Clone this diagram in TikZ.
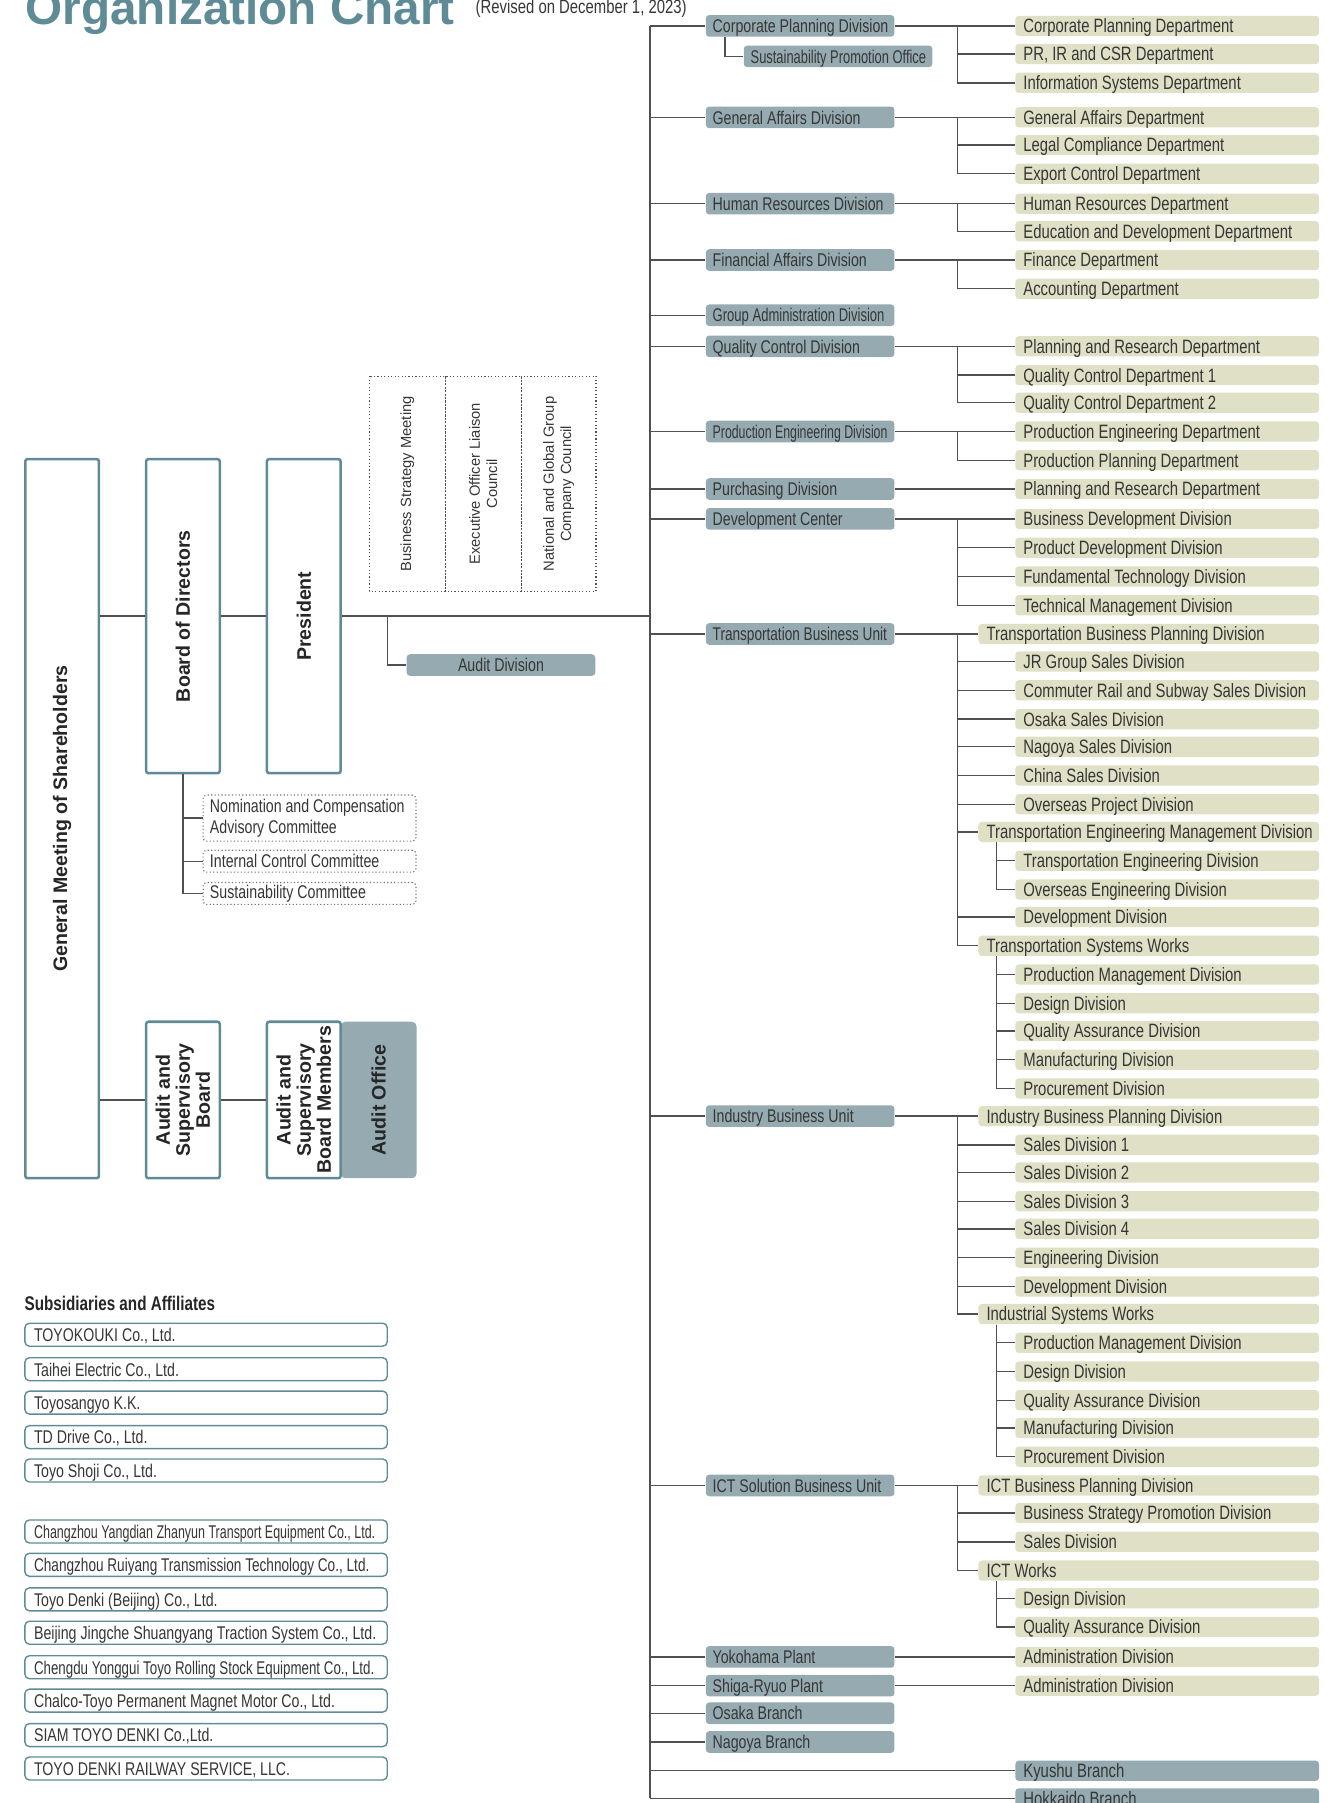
\documentclass[tikz,border=0pt]{standalone}
\usepackage{fontspec}
\setmainfont{Liberation Sans}
\newfontfamily\etroit{Liberation Sans}[FakeStretch=0.77]
\usepackage{xcolor}
\usepackage{tikz}
\definecolor{sarcelle}{HTML}{5E8B96}
\definecolor{ardoise}{HTML}{95ABB1}
\definecolor{kaki}{HTML}{DFE0C5}
\definecolor{trait}{HTML}{505050}
\definecolor{texte}{HTML}{363636}
\newcommand{\serre}[2]{\scalebox{#1}[1]{#2}}

\begin{document}
\begin{tikzpicture}[x=0.5pt,y=-0.5pt]
\tikzstyle{lien}=[draw=trait,line width=0.6pt]
\tikzset{service/.style={fill=#1,rounded corners=1.5pt,anchor=west,inner xsep=3.5pt,inner ysep=0pt,
  minimum height=8.8pt,text width=125pt,align=left,text=texte,
  font=\etroit\fontsize{8.4}{9}\selectfont,text height=6.8pt,text depth=0.8pt,
  execute at begin node={\spaceskip=0pt\xspaceskip=0pt\leavevmode\hbox\bgroup},
  execute at end node=\egroup},
service/.default={kaki},
pole/.style={service,text width=141pt},
division/.style={service=ardoise,inner xsep=3pt,minimum height=9.4pt,text width=76pt,
  font=\etroit\fontsize{8}{9}\selectfont,text height=6.5pt,text depth=0.7pt},
organe/.style={draw=sarcelle,line width=1.1pt,fill=white,rotate=90,rounded corners=1pt,
  inner sep=0pt,align=center,text=black!85,font=\bfseries\fontsize{8.5}{8.7}\selectfont},
conseil/.style={draw=trait,densely dotted,line width=0.5pt,rotate=90,minimum width=93.5pt,
  minimum height=33pt,inner sep=0pt,align=center,text=texte,font=\fontsize{6.4}{7.5}\selectfont},
comite/.style={draw=trait!80,densely dotted,line width=0.5pt,rounded corners=1.5pt,anchor=west,
  inner xsep=3pt,inner ysep=0pt,minimum height=9.5pt,text width=86.5pt,align=left,text=texte,
  font=\etroit\fontsize{8}{9}\selectfont,execute at begin node={\spaceskip=0pt\xspaceskip=0pt}},
filiale/.style={service=white,draw=sarcelle,line width=0.6pt,rounded corners=2pt,inner xsep=4pt,
  minimum height=10pt,text width=149.5pt,font=\etroit\fontsize{8}{9}\selectfont,
  text height=6.8pt,text depth=0.9pt}}
\useasboundingbox (0,0) rectangle (1168,1567);

% titre
\node[anchor=base west,inner sep=0pt,text=sarcelle,font=\bfseries\fontsize{20.7}{22}\selectfont] (titre) at (22,21) {Organization Chart};
\node[anchor=base west,inner sep=0pt,text=texte,font=\etroit\fontsize{8.4}{9}\selectfont] (revision) at (413,12) {(Revised on December 1, 2023)};

% direction
\node[organe,minimum width=312.5pt,minimum height=32pt] (AG) at (54,711.5) {General Meeting of Shareholders};
\node[organe,minimum width=136.5pt,minimum height=32pt] (CA) at (159,535.5) {Board of Directors};
\node[organe,minimum width=136.5pt,minimum height=32pt] (P) at (264,535.5) {President};
\node[organe,draw=none,fill=ardoise,rounded corners=2pt,minimum width=68pt,minimum height=33pt] (BA) at (329,956) {Audit Office};
\node[organe,minimum width=68pt,minimum height=32pt] (CS) at (159,956) {Audit and\\Supervisory\\Board};
\node[organe,minimum width=68pt,minimum height=32pt] (CSM) at (264,956) {Audit and\\Supervisory\\Board Members};

\node[conseil] (R1) at (354,420.5) {Business Strategy Meeting};
\node[conseil] (R2) at (420,420.5) {Executive Officer Liaison\\Council};
\node[conseil,minimum height=32.5pt] (R3) at (485.5,420.5) {National and Global Group\\Company Council};

\node[division,align=center] (AD) at (353,578) {Audit Division};

\node[comite,minimum height=20pt] (C1) at (176,711) {\mbox{Nomination and Compensation}\\Advisory Committee};
\node[comite] (C2) at (176,748.5) {Internal Control Committee};
\node[comite] (C3) at (176,776.5) {Sustainability Committee};

\draw[lien] (AG.south |- CA.north) -- (CA.north);
\draw[lien] (CA.south) -- (P.north);
\draw[lien] (AG.south |- CS.north) -- (CS.north);
\draw[lien] (CS.south) -- (CSM.north);
\draw[lien] (CA.west) |- (C3.west);
\draw[lien] (CA.west) |- (C1.west);
\draw[lien] (CA.west) |- (C2.west);

% tronc
\coordinate (T) at (565,0);
\coordinate (B) at (832,0);
\coordinate (SB) at (866,0);
\coordinate (AD0) at (337,535.5);
\draw[lien] (P.south) -- (P.south -| T);
\draw[lien] (AD0) |- (AD.west);

% divisions
\node[division] (D1) at (613,22.5) {Corporate Planning Division};
\node[division] (D1o) at (646,49) {\serre{0.91}{Sustainability Promotion Office}};
\node[division] (D2) at (613,102) {General Affairs Division};
\node[division] (D3) at (613,177) {Human Resources Division};
\node[division] (D4) at (613,226) {Financial Affairs Division};
\node[division] (D5) at (613,274) {\serre{0.92}{Group Administration Division}};
\node[division] (D6) at (613,301) {Quality Control Division};
\node[division] (D7) at (613,375) {\serre{0.87}{Production Engineering Division}};
\node[division] (D8) at (613,425) {Purchasing Division};
\node[division] (D9) at (613,451) {Development Center};
\node[division] (D10) at (613,551) {\serre{0.96}{Transportation Business Unit}};
\node[division] (D11) at (613,970) {Industry Business Unit};
\node[division] (D12) at (613,1291) {ICT Solution Business Unit};
\node[division] (D13) at (613,1440) {Yokohama Plant};
\node[division] (D14) at (613,1465) {Shiga-Ryuo Plant};
\node[division] (D15) at (613,1489) {Osaka Branch};
\node[division] (D16) at (613,1514) {Nagoya Branch};
\node[service=ardoise] (D17) at (882,1539) {Kyushu Branch};
\node[service=ardoise] (D18) at (882,1563) {Hokkaido Branch};

% departements
\node[service] (D1a) at (882,22.5) {Corporate Planning Department};
\node[service] (D1b) at (882,47) {PR, IR and CSR Department};
\node[service] (D1c) at (882,72) {Information Systems Department};
\node[service] (D2a) at (882,102) {General Affairs Department};
\node[service] (D2b) at (882,126) {Legal Compliance Department};
\node[service] (D2c) at (882,151) {Export Control Department};
\node[service] (D3a) at (882,177) {Human Resources Department};
\node[service] (D3b) at (882,201) {Education and Development Department};
\node[service] (D4a) at (882,226) {Finance Department};
\node[service] (D4b) at (882,251) {Accounting Department};
\node[service] (D6a) at (882,301) {Planning and Research Department};
\node[service] (D6b) at (882,326) {Quality Control Department 1};
\node[service] (D6c) at (882,350) {Quality Control Department 2};
\node[service] (D7a) at (882,375) {Production Engineering Department};
\node[service] (D7b) at (882,400) {Production Planning Department};
\node[service] (D8a) at (882,425) {Planning and Research Department};
\node[service] (D9a) at (882,451) {Business Development Division};
\node[service] (D9b) at (882,476) {Product Development Division};
\node[service] (D9c) at (882,501) {Fundamental Technology Division};
\node[service] (D9d) at (882,526) {Technical Management Division};

\node[pole] (D10a) at (850,551) {Transportation Business Planning Division};
\node[service] (D10b) at (882,575) {JR Group Sales Division};
\node[service] (D10c) at (882,600) {Commuter Rail and Subway Sales Division};
\node[service] (D10d) at (882,625) {Osaka Sales Division};
\node[service] (D10e) at (882,649) {Nagoya Sales Division};
\node[service] (D10f) at (882,674) {China Sales Division};
\node[service] (D10g) at (882,699) {Overseas Project Division};
\node[pole] (D10h) at (850,723) {Transportation Engineering Management Division};
\node[service] (D10h1) at (882,748) {Transportation Engineering Division};
\node[service] (D10h2) at (882,773) {Overseas Engineering Division};
\node[service] (D10i) at (882,797) {Development Division};
\node[pole] (D10j) at (850,822) {Transportation Systems Works};
\node[service] (D10j1) at (882,847) {Production Management Division};
\node[service] (D10j2) at (882,872) {Design Division};
\node[service] (D10j3) at (882,896) {Quality Assurance Division};
\node[service] (D10j4) at (882,921) {Manufacturing Division};
\node[service] (D10j5) at (882,946) {Procurement Division};

\node[pole] (D11a) at (850,970) {Industry Business Planning Division};
\node[service] (D11b) at (882,995) {Sales Division 1};
\node[service] (D11c) at (882,1019) {Sales Division 2};
\node[service] (D11d) at (882,1044) {Sales Division 3};
\node[service] (D11e) at (882,1068) {Sales Division 4};
\node[service] (D11f) at (882,1093) {Engineering Division};
\node[service] (D11g) at (882,1118) {Development Division};
\node[pole] (D11h) at (850,1142) {Industrial Systems Works};
\node[service] (D11h1) at (882,1167) {Production Management Division};
\node[service] (D11h2) at (882,1192) {Design Division};
\node[service] (D11h3) at (882,1217) {Quality Assurance Division};
\node[service] (D11h4) at (882,1241) {Manufacturing Division};
\node[service] (D11h5) at (882,1266) {Procurement Division};

\node[pole] (D12a) at (850,1291) {ICT Business Planning Division};
\node[service] (D12b) at (882,1315) {Business Strategy Promotion Division};
\node[service] (D12c) at (882,1340) {Sales Division};
\node[pole] (D12d) at (850,1365) {ICT Works};
\node[service] (D12d1) at (882,1389) {Design Division};
\node[service] (D12d2) at (882,1414) {Quality Assurance Division};

\node[service] (D13a) at (882,1440) {Administration Division};
\node[service] (D14a) at (882,1465) {Administration Division};

% liens du tronc
\draw[lien] (D1.west -| T) -- (D18.west -| T);
\foreach \n in {D1,D2,D3,D4,D5,D6,D7,D8,D9,D10,D11,D12,D13,D14,D15,D16,D17,D18}
  \draw[lien] (\n.west -| T) -- (\n.west);
\draw[lien] ([xshift=8.5pt]D1.south west) |- (D1o.west);

% liens des departements
\foreach \d in {D1,D2,D3,D4,D6,D7,D8,D9,D10,D11,D12,D13,D14}
  \draw[lien] (\d.east) -- (\d a.west);
\foreach \n in {D1b,D1c} \draw[lien] (D1.east -| B) |- (\n.west);
\foreach \n in {D2b,D2c} \draw[lien] (D2.east -| B) |- (\n.west);
\draw[lien] (D3.east -| B) |- (D3b.west);
\draw[lien] (D4.east -| B) |- (D4b.west);
\foreach \n in {D6b,D6c} \draw[lien] (D6.east -| B) |- (\n.west);
\draw[lien] (D7.east -| B) |- (D7b.west);
\foreach \n in {D9b,D9c,D9d} \draw[lien] (D9.east -| B) |- (\n.west);
\foreach \n in {D10b,D10c,D10d,D10e,D10f,D10g,D10h,D10i,D10j} \draw[lien] (D10.east -| B) |- (\n.west);
\foreach \n in {D10h1,D10h2} \draw[lien] (D10h.south -| SB) |- (\n.west);
\foreach \n in {D10j1,D10j2,D10j3,D10j4,D10j5} \draw[lien] (D10j.south -| SB) |- (\n.west);
\foreach \n in {D11b,D11c,D11d,D11e,D11f,D11g,D11h} \draw[lien] (D11.east -| B) |- (\n.west);
\foreach \n in {D11h1,D11h2,D11h3,D11h4,D11h5} \draw[lien] (D11h.south -| SB) |- (\n.west);
\foreach \n in {D12b,D12c,D12d} \draw[lien] (D12.east -| B) |- (\n.west);
\foreach \n in {D12d1,D12d2} \draw[lien] (D12d.south -| SB) |- (\n.west);

% filiales
\node[anchor=base west,inner sep=0pt,text=black!85,font=\etroit\bfseries\fontsize{8.6}{9}\selectfont] (SA) at (21,1139) {Subsidiaries and Affiliates};
\node[filiale] (F1) at (21,1160) {TOYOKOUKI Co., Ltd.};
\node[filiale] (F2) at (21,1190) {Taihei Electric Co., Ltd.};
\node[filiale] (F3) at (21,1219) {Toyosangyo K.K.};
\node[filiale] (F4) at (21,1249) {TD Drive Co., Ltd.};
\node[filiale] (F5) at (21,1278) {Toyo Shoji Co., Ltd.};
\node[filiale] (F6) at (21,1331) {\serre{0.88}{Changzhou Yangdian Zhanyun Transport Equipment Co., Ltd.}};
\node[filiale] (F7) at (21,1360) {\serre{0.96}{Changzhou Ruiyang Transmission Technology Co., Ltd.}};
\node[filiale] (F8) at (21,1390) {Toyo Denki (Beijing) Co., Ltd.};
\node[filiale] (F9) at (21,1419) {Beijing Jingche Shuangyang Traction System Co., Ltd.};
\node[filiale] (F10) at (21,1449) {\serre{0.94}{Chengdu Yonggui Toyo Rolling Stock Equipment Co., Ltd.}};
\node[filiale] (F11) at (21,1478) {Chalco-Toyo Permanent Magnet Motor Co., Ltd.};
\node[filiale] (F12) at (21,1508) {SIAM TOYO DENKI Co.,Ltd.};
\node[filiale] (F13) at (21,1537) {TOYO DENKI RAILWAY SERVICE, LLC.};

\end{tikzpicture}
\end{document}
